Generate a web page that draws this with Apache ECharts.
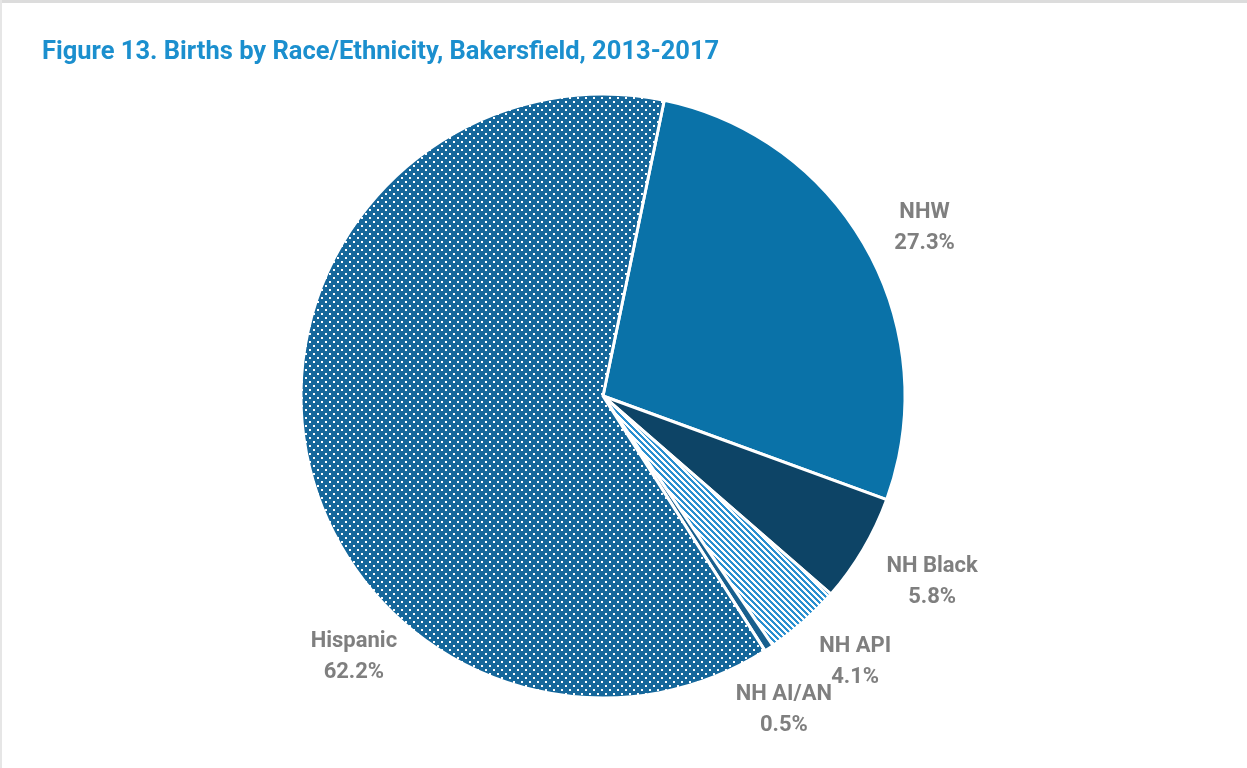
<!DOCTYPE html>
<html>
<head>
<meta charset="utf-8">
<script src="https://cdn.jsdelivr.net/npm/echarts@6/dist/echarts.min.js"></script>
<style>
  html, body { margin: 0; padding: 0; background: #fff; }
  #chart { width: 1247px; height: 768px; }
</style>
</head>
<body>
<div id="chart"></div>
<script>
// data
const categories = ['NHW', 'NH Black', 'NH API', 'NH AI/AN', 'Hispanic']
const shares = [27.3, 5.8, 4.1, 0.5, 62.2]

const labelFont = 'Roboto, "Liberation Sans", sans-serif'

// white dots on blue
function dotPattern() {
  const c = document.createElement('canvas')
  c.width = 8
  c.height = 8
  const ctx = c.getContext('2d')
  ctx.fillStyle = '#15679b'
  ctx.fillRect(0, 0, 8, 8)
  ctx.fillStyle = '#ffffff'
  ctx.fillRect(1, 1, 2, 2)
  ctx.fillRect(5, 5, 2, 2)
  return c
}

// blue diagonal stripes on white
function stripePattern() {
  const n = 6
  const c = document.createElement('canvas')
  c.width = n
  c.height = n
  const ctx = c.getContext('2d')
  ctx.fillStyle = '#ffffff'
  ctx.fillRect(0, 0, n, n)
  ctx.fillStyle = '#2a8fd0'
  for (let y = 0; y < n; y++) {
    for (let x = 0; x < n; x++) {
      if (((x - y + 2 * n) % n) < 3) ctx.fillRect(x, y, 1, 1)
    }
  }
  return c
}

const fills = [
  '#0a72a8',
  '#0d4466',
  { image: stripePattern(), repeat: 'repeat' },
  '#175f8e',
  { image: dotPattern(), repeat: 'repeat' }
]

// small nudges so the labels sit where the original placed them
const labelNudge = [[2, 7], [14, 3], [8, -3], [-22, 13], [110, 196]]

const chart = echarts.init(document.getElementById('chart'))

chart.setOption({
  animation: false,
  title: {
    text: 'Figure 13. Births by Race/Ethnicity, Bakersfield, 2013-2017',
    left: 37,
    top: 35,
    textStyle: {
      color: '#1b8fce',
      fontSize: 25.5,
      fontWeight: 'bold',
      fontFamily: labelFont
    }
  },
  graphic: [
    { type: 'line', shape: { x1: 0, y1: 1.5, x2: 1247, y2: 1.5 }, style: { stroke: '#dcdcdc', lineWidth: 3 } },
    { type: 'line', shape: { x1: 1, y1: 0, x2: 1, y2: 768 }, style: { stroke: '#e6e6e6', lineWidth: 2 } }
  ],
  series: [{
    type: 'pie',
    center: [603, 396],
    radius: 302,
    startAngle: 78.3,
    clockwise: true,
    avoidLabelOverlap: false,
    data: categories.map((name, i) => ({
      name: name,
      value: shares[i],
      itemStyle: { color: fills[i] }
    })),
    itemStyle: {
      borderColor: '#ffffff',
      borderWidth: 3
    },
    label: {
      show: true,
      position: 'outside',
      formatter: p => p.name + '\n' + p.value.toFixed(1) + '%',
      color: '#7f7f7f',
      fontSize: 22,
      fontWeight: 'bold',
      lineHeight: 31,
      fontFamily: labelFont
    },
    labelLine: {
      show: false,
      length: 58,
      length2: 0
    },
    labelLayout: function (params) {
      const n = labelNudge[params.dataIndex]
      return { align: 'center', dx: n[0], dy: n[1] }
    },
    emphasis: { disabled: true }
  }]
})
</script>
</body>
</html>
